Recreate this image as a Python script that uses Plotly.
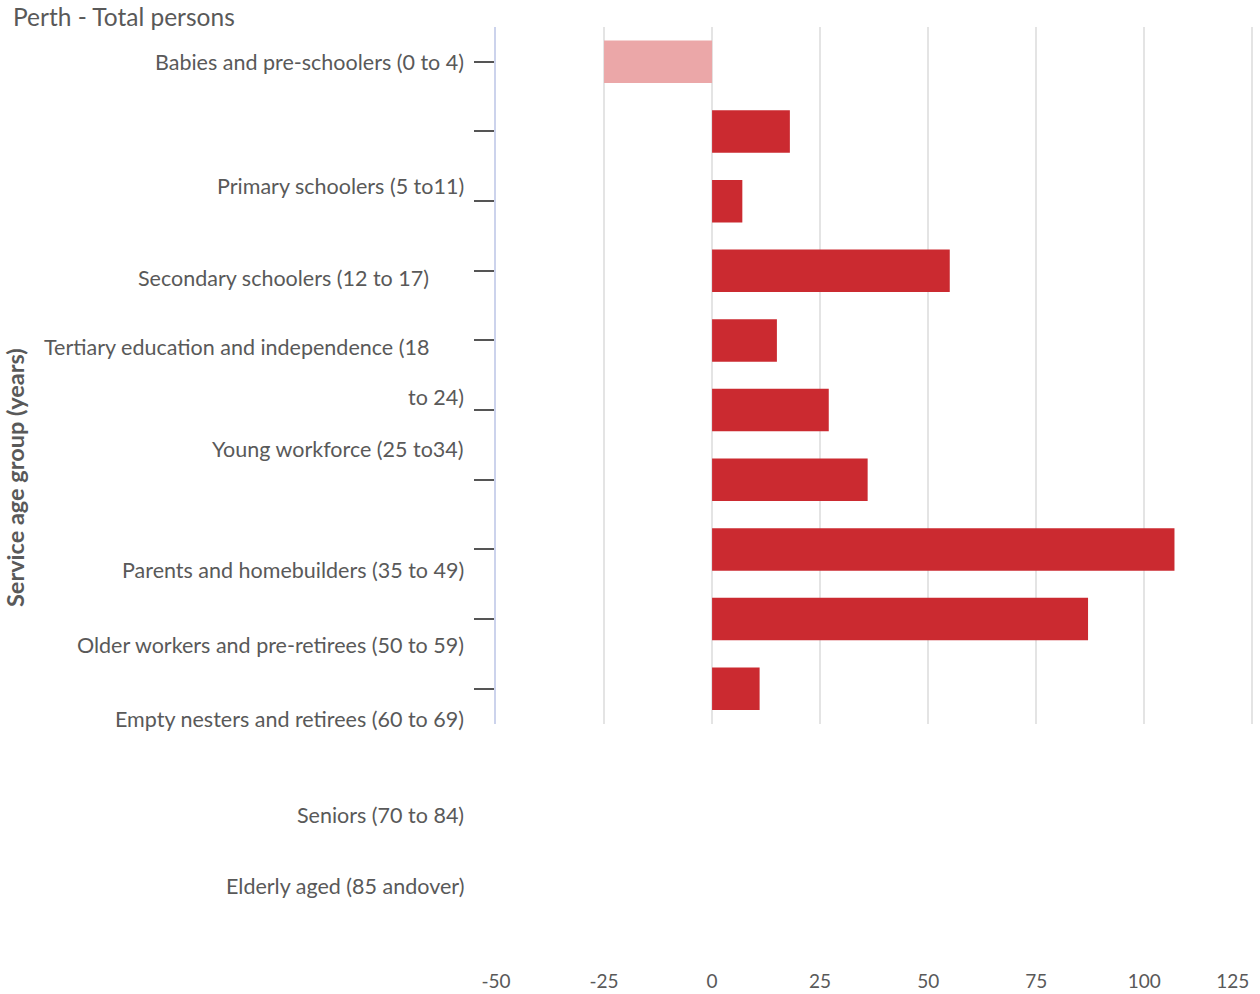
import plotly.graph_objects as go

# Service age groups (Perth, total persons) and the change in each group
age_groups = [
    "Babies and pre-schoolers (0 to 4)",
    "Primary schoolers (5 to11)",
    "Secondary schoolers (12 to 17)",
    "Tertiary education and independence (18<br>to 24)",
    "Young workforce (25 to34)",
    "Parents and homebuilders (35 to 49)",
    "Older workers and pre-retirees (50 to 59)",
    "Empty nesters and retirees (60 to 69)",
    "Seniors (70 to 84)",
    "Elderly aged (85 andover)",
]
change = [-25, 18, 7, 55, 15, 27, 36, 107, 87, 11]
x_ticks = [-50, -25, 0, 25, 50, 75, 100, 125]

TEXT = "#595959"
FONT = "Lato"
RED = "#CB2A30"
PINK = "#EBA7A8"
LABEL_SIZE = 21.5
X_RANGE = [-50, 125.4]

positions = list(range(len(change)))
bar_colors = [PINK if v < 0 else RED for v in change]

# plot geometry (pixels)
W, H = 1260, 994
M_L, M_R, M_T, M_B = 496, 6, 27, 32
PW = W - M_L - M_R
PH = H - M_T - M_B
Y_DOMAIN = (0.255, 1.0)
Y_RANGE = (9.5, -0.5)


def row_to_paper(row):
    """Map a row position (in bar units) to a paper fraction, also beyond the axis range."""
    d0, d1 = Y_DOMAIN
    top, bottom = Y_RANGE[1], Y_RANGE[0]
    return d1 - (row - top) / (bottom - top) * (d1 - d0)


fig = go.Figure()
# transparent copy of the bars on the overlaid axis so that axis gets drawn
fig.add_trace(go.Bar(
    x=change,
    y=positions,
    orientation="h",
    width=0.61,
    xaxis="x2",
    marker=dict(color="rgba(0,0,0,0)", line=dict(width=0)),
    hoverinfo="skip",
    showlegend=False,
))
fig.add_trace(go.Bar(
    x=change,
    y=positions,
    orientation="h",
    width=0.61,
    marker=dict(color=bar_colors, line=dict(width=0)),
    hoverinfo="x",
    showlegend=False,
))

# Category labels sit beside the axis, offset from the bar rows
label_rows = [0, 1.78, 3.11, 4.1, 5.56, 7.3, 8.37, 9.43, 10.81, 11.83]
label_shift = [-30, -30, -65, -65, -30, -30, -30, -30, -30, -30]
label_font = dict(size=LABEL_SIZE, color=TEXT, family=FONT)
annotations = []
for name, row, shift in zip(age_groups, label_rows, label_shift):
    lines = name.split("<br>")
    for i, line in enumerate(lines):
        annotations.append(dict(
            text=line, x=0, xref="paper", y=row_to_paper(row + 0.71 * i), yref="paper",
            xanchor="right", yanchor="middle", xshift=shift if i == 0 else -30,
            showarrow=False, font=label_font,
        ))

annotations.append(dict(
    text="Perth - Total persons",
    x=-(M_L - 11) / PW, xref="paper", y=1 + (M_T - 16) / PH, yref="paper",
    xanchor="left", yanchor="middle", showarrow=False,
    font=dict(size=24.5, color=TEXT, family=FONT),
))
annotations.append(dict(
    text="<b>Service age group (years)</b>", textangle=-90,
    x=-(M_L - 15) / PW, xref="paper", y=(H - M_B - 478) / PH, yref="paper",
    xanchor="center", yanchor="middle", showarrow=False,
    font=dict(size=23.5, color=TEXT, family=FONT),
))

tick_font = dict(size=19, color=TEXT, family=FONT)
common_x = dict(
    range=X_RANGE,
    automargin=False,
    showgrid=True,
    gridcolor="#E4E4E4",
    gridwidth=2,
    zeroline=False,
    showline=False,
    ticks="",
    anchor="free",
    position=0,
    ticklabelstandoff=6,
    tickfont=tick_font,
)

fig.update_layout(
    width=W,
    height=H,
    margin=dict(l=M_L, r=M_R, t=M_T, b=M_B, autoexpand=False),
    paper_bgcolor="white",
    plot_bgcolor="white",
    barmode="overlay",
    annotations=annotations,
    xaxis=dict(
        tickvals=x_ticks[:-1],
        ticktext=[str(v) for v in x_ticks[:-1]],
        **common_x,
    ),
    # the last tick sits at the right edge; its label is set to the left of it
    xaxis2=dict(
        overlaying="x",
        tickvals=x_ticks[-1:],
        ticktext=[str(v) for v in x_ticks[-1:]],
        ticklabelposition="outside left",
        ticklabelshift=-3,
        **common_x,
    ),
    yaxis=dict(
        domain=list(Y_DOMAIN),
        range=list(Y_RANGE),
        tickvals=positions,
        showticklabels=False,
        automargin=False,
        ticks="outside",
        ticklen=20,
        tickwidth=2,
        tickcolor="#555555",
        showgrid=False,
        zeroline=False,
        showline=True,
        linecolor="#CCD3EC",
        linewidth=2,
    ),
)

fig.write_html("out.html")
